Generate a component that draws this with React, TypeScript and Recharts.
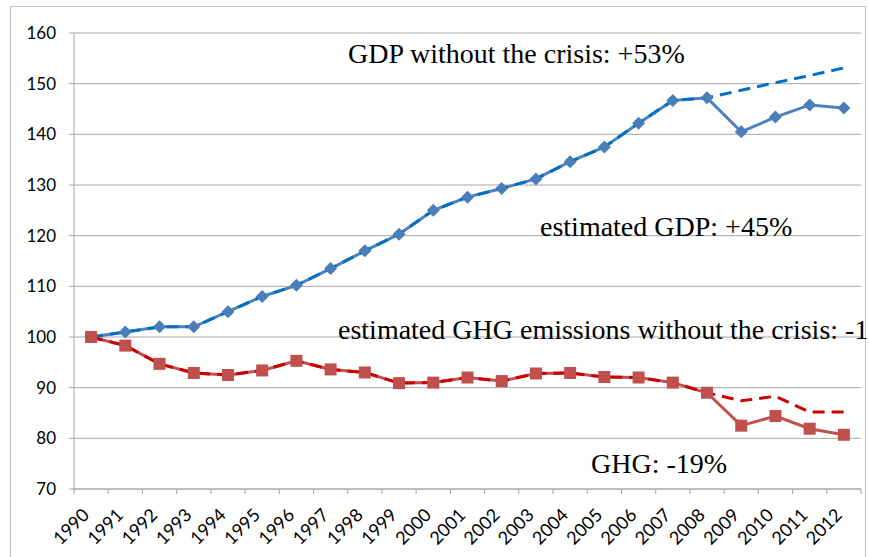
import { LineChart, Line, XAxis, YAxis, CartesianGrid } from 'recharts';

const years = ['1990', '1991', '1992', '1993', '1994', '1995', '1996', '1997', '1998', '1999', '2000', '2001', '2002', '2003', '2004', '2005', '2006', '2007', '2008', '2009', '2010', '2011', '2012'];
const gdp = [100, 101, 102, 102, 105, 108, 110.2, 113.5, 117, 120.3, 125, 127.6, 129.3, 131.2, 134.6, 137.5, 142.2, 146.7, 147.2, 140.5, 143.4, 145.8, 145.2];
const gdpNoCrisis = [100, 101, 102, 102, 105, 108, 110.2, 113.5, 117, 120.3, 125, 127.6, 129.3, 131.2, 134.6, 137.5, 142.2, 146.7, 147.2, 148.7, 150.2, 151.6, 153.1];
const ghg = [100, 98.3, 94.7, 92.9, 92.5, 93.4, 95.3, 93.6, 93.0, 90.9, 91.0, 92.0, 91.3, 92.8, 92.9, 92.1, 92.0, 91.0, 89.0, 82.5, 84.4, 81.9, 80.7];
const ghgNoCrisis = [100, 98.3, 94.7, 92.9, 92.5, 93.4, 95.3, 93.6, 93.0, 90.9, 91.0, 92.0, 91.3, 92.8, 92.9, 92.1, 92.0, 91.0, 89.0, 87.4, 88.3, 85.2, 85.2];
const yTicks = [70, 80, 90, 100, 110, 120, 130, 140, 150, 160];

const data = years.map((year, i) => ({
  i,
  year,
  gdp: gdp[i],
  gdpNoCrisis: gdpNoCrisis[i],
  ghg: ghg[i],
  ghgNoCrisis: ghgNoCrisis[i],
}));

const labelTicks = years.map((_, i) => i);
const markTicks = [...years.map((_, i) => i - 0.5), years.length - 0.5];

const axisColor = '#A6A6A6';
const tickFont = 'Lato, "Liberation Sans", sans-serif';
const noteFont = '"Liberation Serif", "Times New Roman", serif';

function Diamond(props: any) {
  const { cx, cy } = props;
  if (cx == null || cy == null) return null;
  const r = 6.5;
  return <polygon points={`${cx},${cy - r} ${cx + r},${cy} ${cx},${cy + r} ${cx - r},${cy}`} fill="#4A7EBB" />;
}

function Square(props: any) {
  const { cx, cy } = props;
  if (cx == null || cy == null) return null;
  const r = 6;
  return <rect x={cx - r} y={cy - r} width={r * 2} height={r * 2} fill="#C0504D" />;
}

// boundary tick marks between the year bands
function MarkTick(props: any) {
  const { x, y } = props;
  return <line x1={x} x2={x} y1={y} y2={y + 5} stroke={axisColor} strokeWidth={1} />;
}

function YearTick(props: any) {
  const { x, y, payload } = props;
  const ax = x - 11;
  const ay = y + 8;
  return (
    <text
      x={ax}
      y={ay}
      transform={`rotate(-45 ${ax} ${ay})`}
      textAnchor="end"
      dominantBaseline="hanging"
      fill="#000"
      fontSize={18}
      fontFamily={tickFont}
    >
      {years[payload.value]}
    </text>
  );
}

const notes = [
  { text: 'GDP without the crisis: +53%', x: 348, y: 63 },
  { text: 'estimated GDP: +45%', x: 540, y: 236 },
  { text: 'estimated GHG emissions without the crisis: -1', x: 338, y: 339 },
  { text: 'GHG: -19%', x: 591, y: 473 },
];

export default function App() {
  return (
    <div style={{ position: 'fixed', left: 0, top: 0, width: 869, height: 557, background: '#fff', overflow: 'hidden' }}>
      <div
        style={{
          position: 'absolute',
          left: 10,
          top: 6,
          width: 856,
          height: 600,
          border: '1px solid #BFBFBF',
          boxSizing: 'border-box',
        }}
      />
      <div style={{ position: 'absolute', left: 0, top: 0 }}>
        <LineChart width={869} height={557} data={data} margin={{ top: 33, right: 8, left: 0, bottom: 0 }}>
          <CartesianGrid vertical={false} stroke={axisColor} strokeWidth={1} />
          <XAxis
            xAxisId="b"
            type="number"
            dataKey="i"
            domain={[-0.5, 22.5]}
            ticks={labelTicks}
            tick={<YearTick />}
            tickLine={false}
            axisLine={false}
            height={67}
            interval={0}
          />
          <XAxis
            xAxisId="a"
            type="number"
            dataKey="i"
            domain={[-0.5, 22.5]}
            ticks={markTicks}
            tick={<MarkTick />}
            tickLine={false}
            tickSize={0}
            tickMargin={0}
            height={1}
            axisLine={{ stroke: axisColor }}
            interval={0}
            allowDecimals
          />
          <YAxis
            type="number"
            domain={[70, 160]}
            ticks={yTicks}
            width={74}
            tickSize={5}
            tickMargin={13}
            axisLine={{ stroke: axisColor }}
            tickLine={{ stroke: axisColor }}
            tick={{ fill: '#000', fontSize: 17, fontFamily: tickFont }}
            interval={0}
          />
          <Line
            xAxisId="b"
            dataKey="gdp"
            stroke="#4F81BD"
            strokeWidth={3}
            dot={<Diamond />}
            isAnimationActive={false}
          />
          <Line
            xAxisId="b"
            dataKey="ghg"
            stroke="#C0504D"
            strokeWidth={3}
            dot={<Square />}
            isAnimationActive={false}
          />
          <Line
            xAxisId="b"
            dataKey="gdpNoCrisis"
            stroke="#0070C0"
            strokeWidth={3}
            strokeDasharray="12 7"
            dot={false}
            isAnimationActive={false}
          />
          <Line
            xAxisId="b"
            dataKey="ghgNoCrisis"
            stroke="#CC0000"
            strokeWidth={3}
            strokeDasharray="12 7"
            dot={false}
            isAnimationActive={false}
          />
        </LineChart>
      </div>
      <svg width={869} height={557} style={{ position: 'absolute', left: 0, top: 0, pointerEvents: 'none' }}>
        {notes.map((n) => (
          <text key={n.text} x={n.x} y={n.y} fontFamily={noteFont} fontSize={28} fill="#000">
            {n.text}
          </text>
        ))}
      </svg>
    </div>
  );
}
